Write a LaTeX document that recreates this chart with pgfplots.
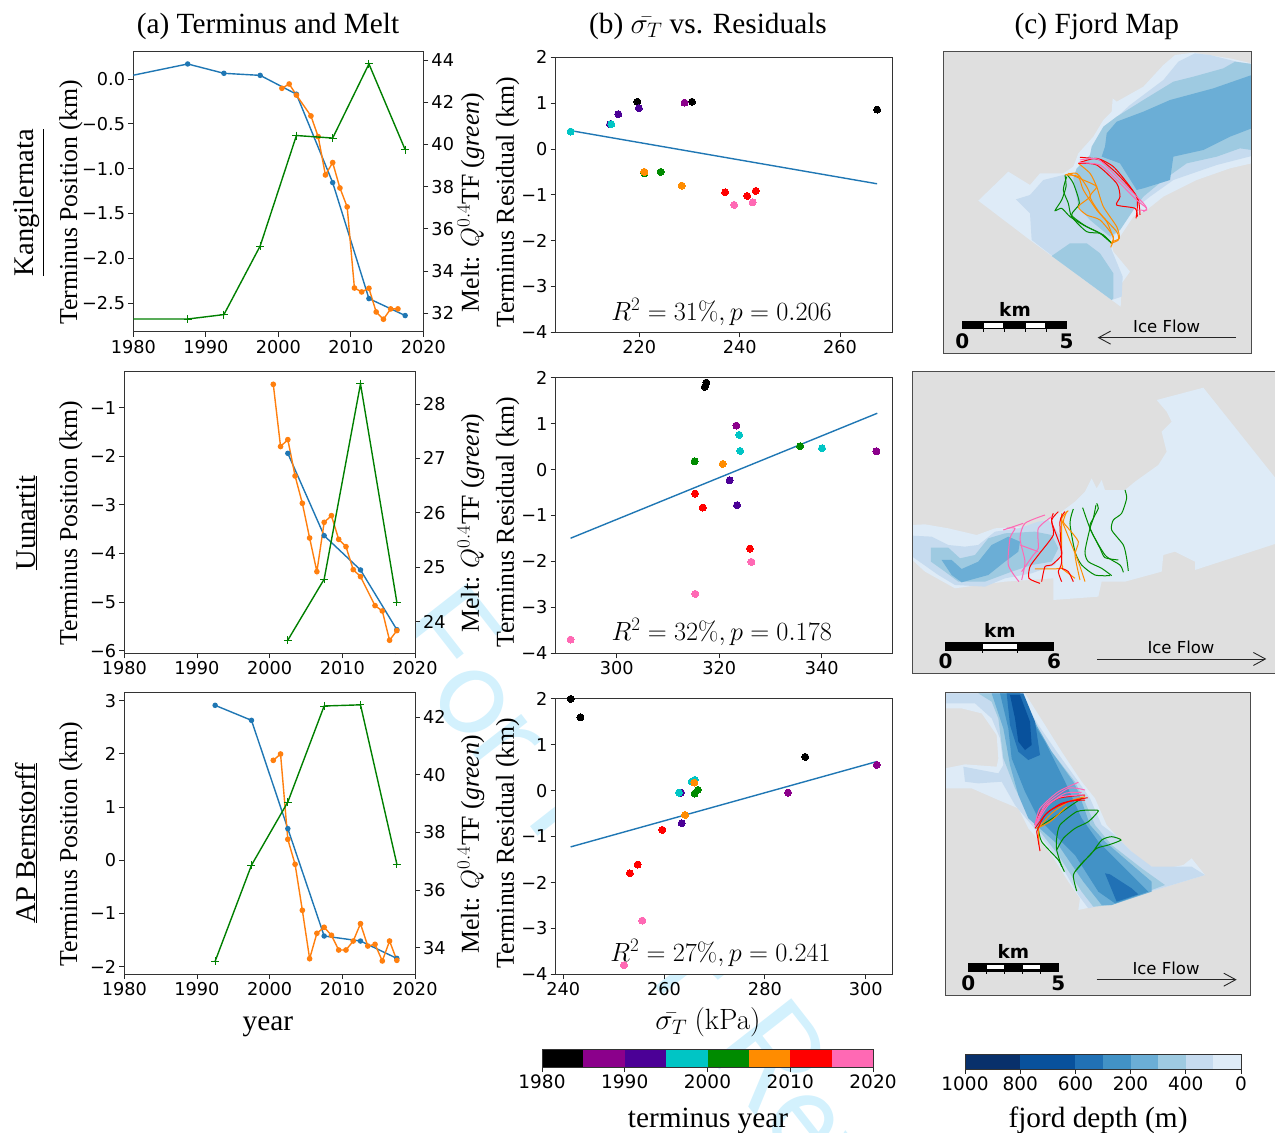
\RequirePackage{fix-cm}
\documentclass[border=0pt]{standalone}
\usepackage[no-math]{fontspec}
\usepackage{pgfplots}
\pgfplotsset{compat=1.18}
\usetikzlibrary{arrows.meta}
\setmainfont{Liberation Serif}
\newfontfamily\dvs{DejaVu Sans}
\DeclareMathSizes{25.8}{25.8}{19}{14}
\DeclareMathSizes{26.3}{26.3}{19}{14}
\DeclareMathSizes{29.3}{29.3}{21}{15}
\def\tickfont{\dvs\fontsize{17.7}{18}\selectfont}
\def\cbfont{\dvs\fontsize{18.5}{19}\selectfont}
\def\labfont{\fontsize{25.8}{28}\selectfont}
\def\titfont{\fontsize{29.3}{30}\selectfont}
\def\rowfont{\fontsize{28.5}{30}\selectfont}
\def\barfont{\dvs\bfseries\fontsize{18.5}{19}\selectfont}
\def\numfont{\dvs\bfseries\fontsize{20}{20}\selectfont}
\def\icefont{\dvs\fontsize{16.5}{17}\selectfont}
\def\rfont{\fontsize{26.3}{28}\selectfont}
\definecolor{tblue}{HTML}{1F77B4}
\definecolor{torange}{HTML}{FF7F0E}
\definecolor{tgreen}{HTML}{008000}
\definecolor{cK}{HTML}{000000}
\definecolor{cP}{HTML}{8B008B}
\definecolor{cI}{HTML}{4B0096}
\definecolor{cT}{HTML}{00C5C5}
\definecolor{cG}{HTML}{008B00}
\definecolor{cO}{HTML}{FF8C00}
\definecolor{cR}{HTML}{FF0000}
\definecolor{cH}{HTML}{FF69B4}
\definecolor{b1}{HTML}{DEEBF7}
\definecolor{b2}{HTML}{C6DBEF}
\definecolor{b3}{HTML}{9ECAE1}
\definecolor{b4}{HTML}{6BAED6}
\definecolor{b5}{HTML}{4292C6}
\definecolor{b6}{HTML}{2171B5}
\definecolor{b7}{HTML}{08519C}
\definecolor{b8}{HTML}{08306B}
\definecolor{land}{HTML}{DFDFDF}
\definecolor{wm}{HTML}{D3F1FD}
\pgfplotsset{
 common/.style={scale only axis,anchor=south west,axis line style={line width=.9pt,black!80},
  tick style={black!85,line width=.8pt},tick align=outside,major tick length=5pt,
  tick label style={font=\tickfont,inner sep=0pt},xticklabel shift=3pt,yticklabel shift=3pt,
  label style={font=\labfont},title style={font=\titfont}},
 panA/.style={common,axis background/.style={fill=white},xmin=1980,xmax=2020,xtick={1980,1990,2000,2010,2020},
  xticklabels={1980,1990,2000,2010,2020},xtick pos=left,ytick pos=left},
 twin/.style={common,xmin=1980,xmax=2020,axis x line=none,axis y line*=right},
 panB/.style={common,axis background/.style={fill=white},ymin=-4,ymax=2,ytick={-4,-3,-2,-1,0,1,2},
  yticklabels={−4,−3,−2,−1,0,1,2},xtick pos=left,ytick pos=left,width=336.6pt},
 sblue/.style={tblue,line width=1.4pt,mark=*,mark size=2pt},
 sorange/.style={torange,line width=1.4pt,mark=*,mark size=2.1pt},
 sgreen/.style={tgreen,line width=1.4pt,mark=+,mark size=4pt,mark options={line width=.9pt}},
 dot/.style={only marks,color=#1,mark=*,mark size=3.5pt,mark options={fill=#1,draw=#1,line width=0pt}},
 fitl/.style={tblue,line width=1.4pt,no markers},
 map/.style={common,axis background/.style={fill=land},axis line style={line width=.9pt,black!70},xtick=\empty,ytick=\empty,y dir=reverse,axis on top},
 tm/.style={#1,line width=1pt,no markers,smooth,tension=.4},
 poly/.style={fill=#1,draw=none,no markers},
 stick/.style={black,line width=.8pt,no markers},
}
\newcommand{\scalearrow}[3]{\addplot[black!85,line width=.9pt,no markers,-{Straight Barb[length=12pt,width=13pt]}] coordinates {(#1,#3)(#2,#3)};}
\begin{document}
\begin{tikzpicture}[x=1pt,y=1pt]
\useasboundingbox (0,0) rectangle (1275,1133);
% watermark behind the axes
\node[rotate=-52,text=wm,font=\fontsize{145}{145}\selectfont\sffamily] at (704,164) {For Peer Review};

% ---------- row labels
\node[rotate=90,anchor=base,font=\rowfont] at (33,930.5) {\underline{Kangilernata\rule[-8.5pt]{0pt}{1pt}}};
\node[rotate=90,anchor=base,font=\rowfont] at (35,610) {\underline{Uunartit}};
\node[rotate=90,anchor=base,font=\rowfont] at (35,290) {\underline{AP Bernstorff}};

% ---------- row 1 (a)
\begin{axis}[panA,at={(133.3pt,801.3pt)},width=290pt,height=280pt,ymin=-2.817,ymax=0.304,
 ytick={-2.5,-2,-1.5,-1,-0.5,0},yticklabels={−2.5,−2.0,−1.5,−1.0,−0.5,0.0},
 ylabel={Terminus Position (km)},ylabel style={at={(axis description cs:-0.194,0.461)},anchor=base},
 title={(a) Terminus and Melt},title style={at={(axis description cs:0.4645,1.0436)},anchor=base}]
\addplot[sblue] coordinates {(1977.5,0.0)(1987.5,0.167)(1992.5,0.063)(1997.5,0.04)(2002.5,-0.17)(2007.5,-1.155)(2012.5,-2.448)(2017.5,-2.637)};
\addplot[sorange] coordinates {(2000.5,-0.104)(2001.5,-0.056)(2002.5,-0.18)(2004.5,-0.412)(2005.5,-0.643)(2006.5,-1.07)(2007.5,-0.932)(2008.5,-1.215)(2009.5,-1.426)(2010.5,-2.33)(2011.5,-2.374)(2012.5,-2.333)(2013.5,-2.597)(2014.5,-2.678)(2015.5,-2.563)(2016.5,-2.563)};
\end{axis}
\begin{axis}[twin,at={(133.3pt,801.3pt)},width=290pt,height=280pt,ymin=31.13,ymax=44.39,
 ytick={32,34,36,38,40,42,44},yticklabels={32,34,36,38,40,42,44},
 ylabel={Melt: $Q^{0.4}$TF (\textit{green})},ylabel style={at={(axis description cs:1.192,0.461)},anchor=base}]
\addplot[sgreen] coordinates {(1977.5,31.73)(1987.5,31.73)(1992.5,31.94)(1997.5,35.19)(2002.5,40.42)(2007.5,40.3)(2012.5,43.81)(2017.5,39.75)};
\end{axis}

% ---------- row 2 (a)
\begin{axis}[panA,at={(124.3pt,479.7pt)},width=290.7pt,height=282.3pt,ymin=-6.055,ymax=-0.2455,
 ytick={-6,-5,-4,-3,-2,-1},yticklabels={−6,−5,−4,−3,−2,−1},
 ylabel={Terminus Position (km)},ylabel style={at={(axis description cs:-0.1627,0.4616)},anchor=base}]
\addplot[sblue] coordinates {(2002.5,-1.94)(2007.5,-3.634)(2012.5,-4.34)(2017.5,-5.568)};
\addplot[sorange] coordinates {(2000.5,-0.52)(2001.5,-1.80)(2002.5,-1.658)(2003.5,-2.406)(2004.5,-2.968)(2005.5,-3.682)(2006.5,-4.374)(2007.5,-3.36)(2008.5,-3.222)(2009.5,-3.71)(2010.5,-3.86)(2011.5,-4.333)(2012.5,-4.477)(2014.5,-5.074)(2015.5,-5.184)(2016.5,-5.787)(2017.5,-5.588)};
\end{axis}
\begin{axis}[twin,at={(124.3pt,479.7pt)},width=290.7pt,height=282.3pt,ymin=23.418,ymax=28.606,
 ytick={24,25,26,27,28},yticklabels={24,25,26,27,28},
 ylabel={Melt: $Q^{0.4}$TF (\textit{green})},ylabel style={at={(axis description cs:1.22,0.4616)},anchor=base}]
\addplot[sgreen] coordinates {(2002.5,23.66)(2007.5,24.78)(2012.5,28.37)(2017.5,24.36)};
\end{axis}

% ---------- row 3 (a)
\begin{axis}[panA,at={(124.3pt,159pt)},width=290.7pt,height=281.7pt,ymin=-2.138,ymax=3.157,
 ytick={-2,-1,0,1,2,3},yticklabels={−2,−1,0,1,2,3},
 ylabel={Terminus Position (km)},ylabel style={at={(axis description cs:-0.1627,0.4615)},anchor=base},
 xlabel={year},xlabel style={font=\titfont,at={(axis description cs:0.494,-0.199)},anchor=base}]
\addplot[sblue] coordinates {(1992.5,2.912)(1997.5,2.63)(2002.5,0.594)(2007.5,-1.424)(2012.5,-1.518)(2017.5,-1.844)};
\addplot[sorange] coordinates {(2000.5,1.878)(2001.5,1.997)(2002.5,0.393)(2003.5,-0.076)(2004.5,-0.941)(2005.5,-1.85)(2006.5,-1.373)(2007.5,-1.26)(2008.5,-1.41)(2009.5,-1.687)(2010.5,-1.687)(2011.5,-1.518)(2012.5,-1.192)(2013.5,-1.612)(2014.5,-1.58)(2015.5,-1.893)(2016.5,-1.518)(2017.5,-1.881)};
\end{axis}
\begin{axis}[twin,at={(124.3pt,159pt)},width=290.7pt,height=281.7pt,ymin=33.087,ymax=42.855,
 ytick={34,36,38,40,42},yticklabels={34,36,38,40,42},
 ylabel={Melt: $Q^{0.4}$TF (\textit{green})},ylabel style={at={(axis description cs:1.22,0.4615)},anchor=base}]
\addplot[sgreen] coordinates {(1992.5,33.53)(1997.5,36.86)(2002.5,39.05)(2007.5,42.38)(2012.5,42.42)(2017.5,36.90)};
\end{axis}

% ---------- row 1 (b)
\begin{axis}[panB,at={(555.7pt,800.7pt)},height=275pt,xmin=203.32,xmax=270.43,xtick={220,240,260},xticklabels={220,240,260},
 ylabel={Terminus Residual (km)},ylabel style={at={(axis description cs:-0.124,0.472)},anchor=base},
 title={(b) $\bar{\sigma_T}$ vs. Residuals},title style={at={(axis description cs:0.4525,1.0648)},anchor=base}]
\addplot[fitl] coordinates {(206.3,0.40)(267.4,-0.76)};
\addplot[dot=cK] coordinates {(219.6,1.03)(230.5,1.03)(267.4,0.86)};
\addplot[dot=cP] coordinates {(229.0,1.01)};
\addplot[dot=cI] coordinates {(219.9,0.89)(215.8,0.76)(214.15,0.54)};
\addplot[dot=cT] coordinates {(214.4,0.54)(206.3,0.38)};
\addplot[dot=cG] coordinates {(221.0,-0.53)(224.25,-0.50)};
\addplot[dot=cO] coordinates {(221.0,-0.50)(228.45,-0.80)};
\addplot[dot=cR] coordinates {(237.1,-0.945)(241.5,-1.025)(243.2,-0.915)};
\addplot[dot=cH] coordinates {(238.9,-1.22)(242.6,-1.165)};
\node[font=\rfont] at (axis cs:236.4,-3.56) {$R^2=31\%, p=0.206$};
\end{axis}

% ---------- row 2 (b)
\begin{axis}[panB,at={(555.7pt,479.7pt)},height=275.6pt,xmin=288.1,xmax=353.79,xtick={300,320,340},xticklabels={300,320,340},
 ylabel={Terminus Residual (km)},ylabel style={at={(axis description cs:-0.124,0.4746)},anchor=base}]
\addplot[fitl] coordinates {(291.0,-1.495)(350.86,1.226)};
\addplot[dot=cK] coordinates {(317.5,1.894)(317.2,1.80)};
\addplot[dot=cP] coordinates {(323.35,0.958)(350.7,0.40)};
\addplot[dot=cI] coordinates {(322.05,-0.232)(323.5,-0.776)};
\addplot[dot=cT] coordinates {(323.9,0.755)(324.1,0.406)(340.07,0.464)};
\addplot[dot=cG] coordinates {(315.2,0.18)(335.8,0.508)};
\addplot[dot=cO] coordinates {(320.7,0.123)};
\addplot[dot=cR] coordinates {(315.3,-0.522)(316.8,-0.827)(326.0,-1.72)};
\addplot[dot=cH] coordinates {(326.3,-2.01)(315.35,-2.707)(291.0,-3.70)};
\node[font=\rfont] at (axis cs:320.5,-3.54) {$R^2=32\%, p=0.178$};
\end{axis}

% ---------- row 3 (b)
\begin{axis}[panB,at={(555.7pt,158.7pt)},height=275.6pt,xmin=238.48,xmax=305.29,xtick={240,260,280,300},xticklabels={240,260,280,300},
 ylabel={Terminus Residual (km)},ylabel style={at={(axis description cs:-0.124,0.4764)},anchor=base},
 xlabel={$\bar{\sigma_T}$ $\mathrm{(kPa)}$},xlabel style={font=\titfont,at={(axis description cs:0.4525,-0.202)},anchor=base}]
\addplot[fitl] coordinates {(241.45,-1.226)(302.2,0.631)};
\addplot[dot=cK] coordinates {(241.45,1.995)(243.4,1.596)(288.0,0.733)};
\addplot[dot=cP] coordinates {(302.2,0.559)(284.6,-0.044)};
\addplot[dot=cI] coordinates {(263.35,-0.044)(263.5,-0.711)};
\addplot[dot=cT] coordinates {(262.95,-0.044)(265.5,0.196)(266.05,0.232)};
\addplot[dot=cG] coordinates {(266.7,0.015)(266.05,-0.065)};
\addplot[dot=cO] coordinates {(266.0,0.174)(264.15,-0.53)};
\addplot[dot=cR] coordinates {(259.65,-0.856)(254.75,-1.61)(253.2,-1.80)};
\addplot[dot=cH] coordinates {(255.67,-2.83)(252.04,-3.80)};
\node[font=\rfont] at (axis cs:271.2,-3.54) {$R^2=27\%, p=0.241$};
\end{axis}

% ---------- map 1
\begin{axis}[map,at={(943.3pt,779.7pt)},width=308.4pt,height=301.6pt,xmin=40,xmax=965,ymin=35,ymax=940,
 title={(c) Fjord Map},title style={at={(axis description cs:0.498,1.0405)},anchor=base}]
\addplot[poly=b1] coordinates {(790,38)(735,45)(700,75)(640,140)(560,185)(548,175)(545,215)(520,240)(490,290)(445,340)(430,380)(400,400)(330,400)(300,435)(235,395)(145,482)(300,600)(545,780)(572,800)(575,730)(600,695)(575,665)(550,635)(545,610)(570,590)(610,530)(650,510)(700,470)(800,420)(900,385)(965,370)(965,70)(900,55)} --cycle;
\addplot[poly=b2] coordinates {(965,72)(920,65)(840,45)(795,40)(745,65)(700,120)(600,195)(540,250)(490,320)(465,380)(440,400)(400,405)(340,420)(300,465)(258,478)(300,520)(305,600)(370,650)(545,780)(575,770)(578,710)(545,630)(540,600)(570,570)(610,510)(660,470)(730,420)(860,375)(965,348)} --cycle;
\addplot[poly=b3] coordinates {(965,72)(915,65)(880,85)(790,110)(730,125)(640,180)(560,230)(520,260)(485,320)(480,345)(440,385)(430,415)(445,500)(480,540)(540,590)(570,570)(610,510)(640,470)(700,420)(770,370)(860,350)(930,325)(965,330)} --cycle;
\addplot[poly=b3] coordinates {(365,648)(420,610)(470,610)(510,640)(550,700)(550,775)(545,780)} --cycle;
\addplot[poly=b4] coordinates {(965,105)(850,145)(720,180)(640,215)(560,245)(530,280)(525,320)(515,350)(570,370)(620,450)(640,445)(720,420)(730,350)(820,330)(900,290)(965,265)} --cycle;
\addplot[tm=cG] coordinates {(405,405)(408,440)(395,480)(375,512)(395,505)(420,530)(460,555)(510,580)(545,610)};
\addplot[tm=cG] coordinates {(410,410)(400,450)(415,490)(425,530)(470,575)(510,580)(540,605)};
\addplot[tm=cG] coordinates {(412,405)(430,430)(448,490)(425,525)(470,560)(520,585)(545,610)};
\addplot[tm=cO] coordinates {(405,405)(440,400)(470,440)(480,470)(445,500)(470,525)(510,540)(550,590)(542,622)};
\addplot[tm=cO] coordinates {(415,400)(460,420)(500,440)(480,470)(510,520)(560,575)(565,600)(542,610)};
\addplot[tm=cO] coordinates {(410,405)(445,410)(460,450)(500,510)(530,545)(550,595)(545,610)};
\addplot[tm=cO] coordinates {(445,370)(480,400)(500,440)(520,500)(560,560)(568,595)(545,605)};
\addplot[tm=cR] coordinates {(447,368)(500,355)(550,380)(600,440)(625,480)(630,525)};
\addplot[tm=cR] coordinates {(450,352)(510,360)(560,400)(620,470)(618,535)};
\addplot[tm=cR] coordinates {(445,370)(500,375)(560,430)(570,470)(560,495)(615,505)(622,530)};
\addplot[tm=cH] coordinates {(447,368)(510,375)(560,420)(620,480)(650,505)(640,515)};
\addplot[tm=cH] coordinates {(450,360)(505,358)(570,420)(640,490)(650,510)(625,510)};
\addplot[poly=black] coordinates {(97,843)(412,843)(412,868)(97,868)} --cycle;
\addplot[poly=white] coordinates {(163,850)(220,850)(220,864)(163,864)} --cycle;
\addplot[poly=white] coordinates {(288,850)(346,850)(346,864)(288,864)} --cycle;
\addplot[stick] coordinates {(160,868)(160,875)};
\addplot[stick] coordinates {(222,868)(222,875)};
\addplot[stick] coordinates {(285,868)(285,875)};
\addplot[stick] coordinates {(348,868)(348,875)};
\scalearrow{918}{503}{893}
\node[font=\barfont] at (axis cs:255,808) {km};
\node[font=\numfont] at (axis cs:97,905) {0};
\node[font=\numfont] at (axis cs:410,905) {5};
\node[font=\icefont] at (axis cs:710,860) {Ice Flow};
\end{axis}

% ---------- map 2
\begin{axis}[map,at={(912.3pt,459.7pt)},width=364.7pt,height=301.6pt,xmin=22,xmax=1116,ymin=20,ymax=925]
\addplot[poly=b1] coordinates {(895,68)(755,105)(785,140)(800,170)(770,200)(785,260)(760,300)(690,350)(660,375)(600,375)(590,345)(575,370)(560,340)(540,380)(510,410)(470,440)(410,470)(350,485)(270,490)(215,510)(130,490)(60,478)(22,480)(22,585)(60,620)(150,670)(300,650)(445,640)(445,705)(580,695)(590,650)(660,650)(770,620)(775,570)(810,560)(870,590)(870,615)(1116,535)(1116,345)} --cycle;
\addplot[poly=b2] coordinates {(22,512)(80,515)(130,540)(180,545)(220,540)(270,500)(340,490)(400,470)(430,465)(465,510)(470,560)(450,600)(380,625)(300,640)(240,665)(150,660)(100,630)(22,575)} --cycle;
\addplot[poly=b3] coordinates {(78,548)(130,548)(165,580)(210,570)(250,520)(300,505)(390,500)(440,510)(460,550)(440,590)(380,600)(320,620)(240,650)(160,650)(120,620)(78,590)} --cycle;
\addplot[poly=b4] coordinates {(110,585)(140,585)(170,612)(220,590)(260,540)(310,515)(345,530)(340,560)(300,590)(250,630)(170,652)(140,630)} --cycle;
\addplot[tm=cG] coordinates {(660,375)(665,400)(650,445)(625,465)(620,495)(655,540)(665,580)(670,618)};
\addplot[tm=cG] coordinates {(575,415)(580,430)(565,460)(555,490)(600,570)(645,600)(655,622)};
\addplot[tm=cG] coordinates {(573,420)(565,460)(555,490)(540,560)(550,590)(590,610)(620,632)};
\addplot[tm=cG] coordinates {(533,428)(555,490)(585,550)(600,578)(640,585)};
\addplot[tm=cG] coordinates {(505,432)(495,475)(510,560)(530,600)(570,630)(615,632)};
\addplot[tm=cO] coordinates {(490,437)(470,460)(480,490)(520,590)(540,650)};
\addplot[tm=cO] coordinates {(485,440)(475,470)(490,490)(520,530)(510,570)(525,645)};
\addplot[tm=cO] coordinates {(470,445)(470,590)(470,610)(390,612)};
\addplot[tm=cO] coordinates {(470,610)(510,640)};
\addplot[tm=cR] coordinates {(480,440)(465,470)(470,590)(460,620)(470,650)};
\addplot[tm=cR] coordinates {(460,440)(440,465)(445,510)(400,570)(375,605)(372,640)(405,655)};
\addplot[tm=cR] coordinates {(445,445)(440,470)(465,540)(470,570)(440,600)(420,605)(410,650)};
\addplot[tm=cR] coordinates {(470,610)(490,620)(505,650)};
\addplot[tm=cH] coordinates {(420,450)(360,475)(345,520)(360,590)(350,645)};
\addplot[tm=cH] coordinates {(305,490)(330,490)(315,520)(310,600)(342,650)};
\addplot[tm=cH] coordinates {(440,455)(400,490)(400,550)(385,570)(350,620)};
\addplot[tm=cH] coordinates {(345,540)(400,560)};
\addplot[tm=cH] coordinates {(295,495)(355,475)};
\addplot[poly=black] coordinates {(120,830)(448,830)(448,858)(120,858)} --cycle;
\addplot[poly=white] coordinates {(233,836)(337,836)(337,852)(233,852)} --cycle;
\addplot[stick] coordinates {(232,858)(232,865)};
\addplot[stick] coordinates {(337,858)(337,865)};
\scalearrow{577}{1084}{882}
\node[font=\barfont] at (axis cs:285,797) {km};
\node[font=\numfont] at (axis cs:122,890) {0};
\node[font=\numfont] at (axis cs:447,890) {6};
\node[font=\icefont] at (axis cs:828,848) {Ice Flow};
\end{axis}

% ---------- map 3
\begin{axis}[map,at={(945pt,138pt)},width=305pt,height=302.3pt,xmin=30,xmax=945,ymin=23,ymax=930]
\addplot[poly=b1] coordinates {(30,25)(270,25)(330,120)(380,200)(440,290)(480,340)(515,420)(560,470)(620,530)(670,555)(745,540)(770,520)(810,570)(545,650)(430,675)(435,640)(400,590)(350,510)(280,430)(250,370)(190,345)(110,310)(30,310)(30,250)(90,238)(185,245)(190,220)(185,150)(140,85)(80,70)(30,70)} --cycle;
\addplot[poly=b2] coordinates {(30,25)(255,25)(310,120)(365,200)(430,290)(465,340)(500,420)(540,450)(590,500)(650,545)(700,545)(770,545)(810,570)(545,650)(460,670)(430,630)(360,510)(290,420)(240,360)(200,290)(130,295)(90,290)(85,245)(190,265)(205,240)(195,160)(170,100)(120,55)(30,55)} --cycle;
\addplot[poly=b3] coordinates {(130,25)(240,25)(290,120)(350,200)(420,290)(445,340)(480,420)(530,480)(620,550)(690,600)(530,660)(475,665)(440,620)(370,510)(300,420)(240,310)(205,220)(190,100)(170,50)} --cycle;
\addplot[poly=b4] coordinates {(170,25)(255,25)(310,130)(350,200)(415,290)(430,320)(465,420)(510,470)(580,530)(650,590)(650,620)(530,660)(500,660)(445,590)(370,480)(280,400)(250,330)(225,240)(205,130)} --cycle;
\addplot[poly=b5] coordinates {(195,25)(255,25)(300,120)(330,170)(390,290)(440,400)(490,470)(600,580)(640,620)(540,655)(490,620)(420,510)(310,400)(270,320)(230,220)(220,130)} --cycle;
\addplot[poly=b6] coordinates {(215,25)(265,25)(300,110)(315,210)(280,225)(250,200)(225,120)} --cycle;
\addplot[poly=b6] coordinates {(510,565)(525,568)(590,610)(610,628)(545,650)} --cycle;
\addplot[poly=b7] coordinates {(225,30)(255,30)(285,110)(290,180)(270,195)(250,170)(240,100)} --cycle;
\addplot[tm=cG] coordinates {(310,430)(320,470)(370,525)(388,560)};
\addplot[tm=cG] coordinates {(380,545)(365,495)(365,460)(375,420)(425,380)(470,375)(490,378)(460,410)(420,430)(385,460)(365,495)};
\addplot[tm=cG] coordinates {(425,618)(415,570)(440,535)(470,505)(500,465)(530,455)(558,465)(520,480)(485,490)(455,520)(420,560)};
\addplot[tm=cG] coordinates {(305,430)(360,395)(410,360)(440,340)};
\addplot[tm=cO] coordinates {(310,430)(350,385)(400,350)(450,335)};
\addplot[tm=cO] coordinates {(305,430)(345,410)(395,365)};
\addplot[tm=cO] coordinates {(310,430)(312,480)};
\addplot[tm=cR] coordinates {(300,420)(320,375)(370,340)(450,330)};
\addplot[tm=cR] coordinates {(305,440)(330,390)(380,355)(458,338)};
\addplot[tm=cR] coordinates {(300,430)(340,380)(400,350)(450,345)};
\addplot[tm=cR] coordinates {(305,440)(315,498)};
\addplot[tm=cH] coordinates {(300,420)(315,370)(370,320)(430,292)};
\addplot[tm=cH] coordinates {(300,420)(330,360)(400,310)(450,315)};
\addplot[tm=cH] coordinates {(300,425)(330,365)(380,335)(445,330)};
\addplot[tm=cH] coordinates {(305,415)(340,360)(390,325)(440,322)};
\addplot[poly=black] coordinates {(98,833)(372,833)(372,860)(98,860)} --cycle;
\addplot[poly=white] coordinates {(157,839)(206,839)(206,853)(157,853)} --cycle;
\addplot[poly=white] coordinates {(264,839)(314,839)(314,853)(264,853)} --cycle;
\addplot[stick] coordinates {(155,860)(155,867)};
\addplot[stick] coordinates {(207,860)(207,867)};
\addplot[stick] coordinates {(262,860)(262,867)};
\addplot[stick] coordinates {(315,860)(315,867)};
\scalearrow{485}{905}{884}
\node[font=\barfont] at (axis cs:235,800) {km};
\node[font=\numfont] at (axis cs:100,895) {0};
\node[font=\numfont] at (axis cs:370,895) {5};
\node[font=\icefont] at (axis cs:693,850) {Ice Flow};
\end{axis}

% ---------- colour bars
\begin{axis}[common,at={(542pt,66pt)},width=331pt,height=18pt,xmin=1980,xmax=2020,ymin=0,ymax=1,ytick=\empty,
 xtick={1980,1990,2000,2010,2020},xticklabels={1980,1990,2000,2010,2020},xtick pos=left,axis on top,
 tick label style={font=\cbfont},
 xlabel={terminus year},xlabel style={font=\titfont,at={(axis description cs:0.5015,-3.387)},anchor=base}]
\addplot[poly=cK] coordinates {(1980,0)(1985,0)(1985,1)(1980,1)} --cycle;
\addplot[poly=cP] coordinates {(1985,0)(1990,0)(1990,1)(1985,1)} --cycle;
\addplot[poly=cI] coordinates {(1990,0)(1995,0)(1995,1)(1990,1)} --cycle;
\addplot[poly=cT] coordinates {(1995,0)(2000,0)(2000,1)(1995,1)} --cycle;
\addplot[poly=cG] coordinates {(2000,0)(2005,0)(2005,1)(2000,1)} --cycle;
\addplot[poly=cO] coordinates {(2005,0)(2010,0)(2010,1)(2005,1)} --cycle;
\addplot[poly=cR] coordinates {(2010,0)(2015,0)(2015,1)(2010,1)} --cycle;
\addplot[poly=cH] coordinates {(2015,0)(2020,0)(2020,1)(2015,1)} --cycle;
\end{axis}
\begin{axis}[common,at={(965pt,64pt)},width=276pt,height=15pt,xmin=0,xmax=1000,ymin=0,ymax=1,ytick=\empty,x dir=reverse,
 xtick={1000,800,600,400,200,0},xticklabels={1000,800,600,200,400,0},xtick pos=left,axis on top,
 tick label style={font=\cbfont},
 xlabel={fjord depth (m)},xlabel style={font=\titfont,at={(axis description cs:0.482,-3.933)},anchor=base}]
\addplot[poly=b8] coordinates {(1000,0)(800,0)(800,1)(1000,1)} --cycle;
\addplot[poly=b7] coordinates {(800,0)(600,0)(600,1)(800,1)} --cycle;
\addplot[poly=b6] coordinates {(600,0)(500,0)(500,1)(600,1)} --cycle;
\addplot[poly=b5] coordinates {(500,0)(400,0)(400,1)(500,1)} --cycle;
\addplot[poly=b4] coordinates {(400,0)(300,0)(300,1)(400,1)} --cycle;
\addplot[poly=b3] coordinates {(300,0)(200,0)(200,1)(300,1)} --cycle;
\addplot[poly=b2] coordinates {(200,0)(100,0)(100,1)(200,1)} --cycle;
\addplot[poly=b1] coordinates {(100,0)(0,0)(0,1)(100,1)} --cycle;
\end{axis}
\end{tikzpicture}
\end{document}
